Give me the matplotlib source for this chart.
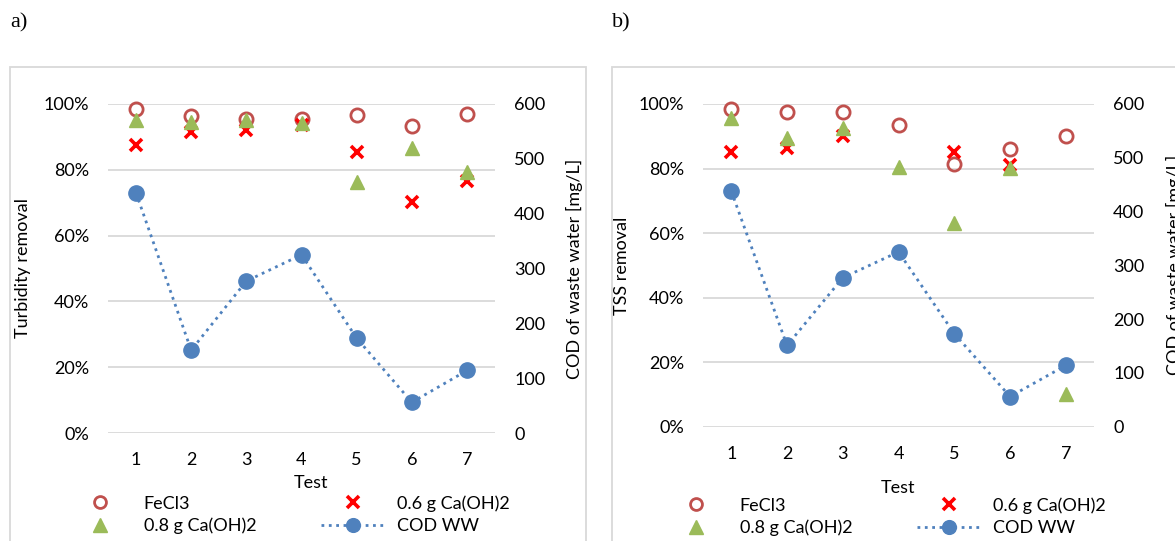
import numpy as np
import matplotlib
matplotlib.use('Agg')
import matplotlib.pyplot as plt
from matplotlib.patches import Rectangle
from matplotlib.ticker import PercentFormatter

# === Data ===
tests = [1, 2, 3, 4, 5, 6, 7]
labels = ["FeCl3", "0.6 g Ca(OH)2", "0.8 g Ca(OH)2", "COD WW"]

turb_fecl3 = [98.4, 96.3, 95.4, 95.5, 96.8, 93.3, 97.0]
turb_ca06 = [87.6, 91.4, 92.1, 93.5, 85.5, 70.3, 76.7]
turb_ca08 = [95.0, 94.6, 95.1, 94.1, 76.4, 86.5, 79.4]

tss_fecl3 = [98.5, 97.4, 97.6, 93.5, 81.4, 86.1, 90.0]
tss_ca06 = [85.2, 86.3, 90.1, np.nan, 85.2, 81.1, np.nan]
tss_ca08 = [95.6, 89.4, 92.5, 80.6, 63.0, 80.1, 10.0]

cod_ww = [438, 151, 277, 325, 173, 56, 114]

# === Settings ===
W, H = 1175, 541
c_fecl3 = "#C0504D"
c_ca06 = "#FF0000"
c_ca08 = "#9BBB59"
c_cod = "#4F81BD"
c_grid = "#D9D9D9"
fs = 13

plt.rcParams['font.family'] = ['Lato', 'DejaVu Sans']
plt.rcParams['font.size'] = fs


def px(x0, y0, x1, y1):
    # pixel box -> figure fraction [left, bottom, width, height]
    return [x0 / W, 1 - y1 / H, (x1 - x0) / W, (y1 - y0) / H]


fig = plt.figure(figsize=(W / 100, H / 100), dpi=100)

# panel frames
for x0, x1 in [(10, 586), (612, 1190)]:
    fig.add_artist(Rectangle((x0 / W, -0.1), (x1 - x0) / W, 1 - 67 / H + 0.1,
                             transform=fig.transFigure, fill=False,
                             edgecolor=c_grid, lw=1.3))

fig.text(10 / W, 1 - 23 / H, "a)", family="Liberation Serif", fontsize=16, va="center")
fig.text(612 / W, 1 - 23 / H, "b)", family="Liberation Serif", fontsize=16, va="center")


def panel(box, fe, ca06, ca08, ylab, ylab_x, xlab_pos, leg_pos):
    ax = fig.add_axes(px(*box))
    ax2 = ax.twinx()
    ax.set_zorder(ax2.get_zorder() + 1)
    ax.patch.set_visible(False)

    ax.set_xlim(0.5, 7.5)
    ax.set_ylim(0, 100)
    ax2.set_ylim(0, 600)
    ax.set_yticks(np.arange(0, 101, 20))
    ax2.set_yticks(np.arange(0, 601, 100))
    ax.set_xticks(tests)
    ax.yaxis.set_major_formatter(PercentFormatter(decimals=0))
    ax.grid(axis="y", color=c_grid, lw=1.3)
    ax.set_axisbelow(True)
    for a in (ax, ax2):
        for s in a.spines.values():
            s.set_visible(False)
    ax.tick_params(axis="y", length=0, pad=14)
    ax.tick_params(axis="x", length=0, pad=14)
    ax2.tick_params(axis="y", length=0, pad=14)

    h1, = ax.plot(tests, fe, ls="none", marker="o", ms=9.5, mfc="none",
                  mec=c_fecl3, mew=2, clip_on=False, label=labels[0])
    h2, = ax.plot(tests, ca06, ls="none", marker="x", ms=9, mec=c_ca06,
                  mew=2.6, clip_on=False, label=labels[1])
    h3, = ax.plot(tests, ca08, ls="none", marker="^", ms=10.5, mfc=c_ca08,
                  mec=c_ca08, clip_on=False, label=labels[2])
    # COD on the secondary axis, but drawn in the main axes scale
    cod_scaled = [v / 6 for v in cod_ww]
    h4, = ax.plot(tests, cod_scaled, ls=":", lw=2, color=c_cod, marker="o",
                  ms=11, clip_on=False, label=labels[3])

    ax.set_ylabel(ylab)
    ax.yaxis.set_label_coords(ylab_x, 0.5)
    ax2.set_ylabel("COD of waste water [mg/L]")
    ax2.yaxis.set_label_coords(1.185, 0.5)
    ax.set_xlabel("Test")
    ax.xaxis.set_label_coords(*xlab_pos)

    fig.legend([h1, h3, h2, h4], [labels[0], labels[2], labels[1], labels[3]],
               ncol=2, frameon=False, loc="upper left",
               bbox_to_anchor=(leg_pos[0] / W, 1 - leg_pos[1] / H),
               borderpad=0, handlelength=3.5, handletextpad=0.7,
               columnspacing=3.6, labelspacing=0.35, borderaxespad=0,
               markerscale=0.9)
    return ax


panel((108.4, 104, 494.6, 433), turb_fecl3, turb_ca06, turb_ca08,
      "Turbidity removal", -0.2, (0.525, -0.128), (68, 495))
panel((703.4, 104, 1093.7, 426.7), tss_fecl3, tss_ca06, tss_ca08,
      "TSS removal", -0.188, (0.499, -0.165), (664, 497))

fig.savefig("out.png", dpi=100)
